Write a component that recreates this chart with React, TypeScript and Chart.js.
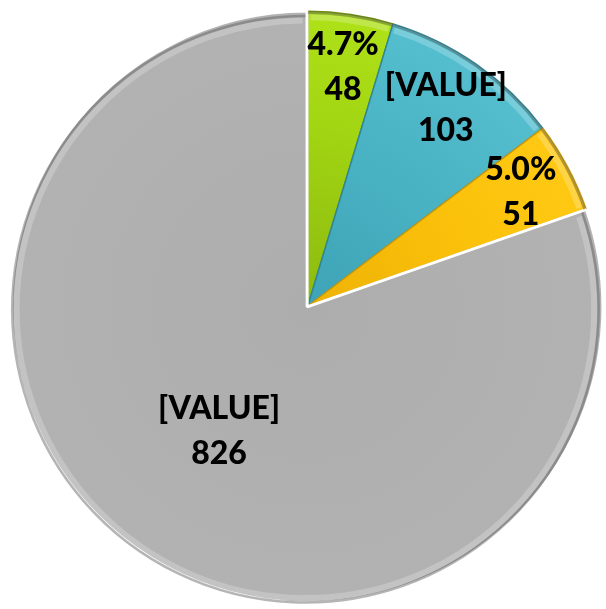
import React, { useEffect, useRef } from "react";
import { Chart, registerables } from "chart.js";

Chart.register(...registerables);

const categories = ["A", "B", "C", "D"];
const values = [48, 103, 51, 826];
const firstLine = ["percent", "[VALUE]", "percent", "[VALUE]"];
const baseColors = ["#a2d512", "#4ab4c5", "#fbc20b", "#b0b0b0"];
const innerColors = ["#8cba10", "#3ea3b6", "#eeb205", "#adadad"];
const outerColors = ["#b0e219", "#55bfd0", "#ffc913", "#b2b2b2"];
const edgeColors = ["#6f8f0c", "#2f8797", "#c8980a", "#ffffff"];

const rimPlugin = {
  id: "rim",
  afterDatasetsDraw(chart: any) {
    const ctx = chart.ctx;
    const meta = chart.getDatasetMeta(0);
    meta.data.forEach((arc: any) => {
      const p = arc.getProps(["x", "y", "startAngle", "endAngle", "outerRadius"], true);
      const mid = (p.startAngle + p.endAngle) / 2;
      const off = arc.options.offset || 0;
      const cx = p.x + Math.cos(mid) * off;
      const cy = p.y + Math.sin(mid) * off;
      ctx.save();
      ctx.lineCap = "butt";
      ctx.beginPath();
      ctx.arc(cx, cy, p.outerRadius - 6, p.startAngle + 0.01, p.endAngle - 0.01);
      ctx.strokeStyle = "rgba(255,255,255,0.22)";
      ctx.lineWidth = 6;
      ctx.stroke();
      ctx.beginPath();
      ctx.arc(cx, cy, p.outerRadius - 1.5, p.startAngle, p.endAngle);
      ctx.strokeStyle = "rgba(90,90,90,0.45)";
      ctx.lineWidth = 2.5;
      ctx.stroke();
      ctx.restore();
    });
  },
};

const labelPlugin = {
  id: "sliceLabels",
  afterDatasetsDraw(chart: any) {
    const ctx = chart.ctx;
    const meta = chart.getDatasetMeta(0);
    const total = values.reduce((a, b) => a + b, 0);
    ctx.save();
    ctx.font = "900 32px Lato";
    ctx.fillStyle = "#000000";
    ctx.textAlign = "center";
    ctx.textBaseline = "middle";
    meta.data.forEach((arc: any, i: number) => {
      const p = arc.getProps(["x", "y", "startAngle", "endAngle", "outerRadius"], true);
      const mid = (p.startAngle + p.endAngle) / 2;
      const share = values[i] / total;
      const f = share > 0.5 ? 0.52 : 0.82;
      const lx = p.x + Math.cos(mid) * p.outerRadius * f;
      const ly = p.y + Math.sin(mid) * p.outerRadius * f;
      const top = firstLine[i] === "percent" ? (share * 100).toFixed(1) + "%" : firstLine[i];
      ctx.fillText(top, lx, ly - 22);
      ctx.fillText(String(values[i]), lx, ly + 23);
    });
    ctx.restore();
  },
};

export default function App() {
  const ref = useRef<HTMLCanvasElement>(null);
  useEffect(() => {
    document.body.style.margin = "0";
    const chart = new Chart(ref.current!, {
      type: "pie",
      data: {
        labels: categories,
        datasets: [
          {
            data: values,
            backgroundColor: (c: any) => {
              const ch = c.chart;
              const area = ch.chartArea;
              const i = c.dataIndex;
              if (!area || i === undefined) return baseColors[i ?? 0];
              const cx = (area.left + area.right) / 2;
              const cy = (area.top + area.bottom) / 2;
              const r = Math.min(area.right - area.left, area.bottom - area.top) / 2;
              const g = ch.ctx.createRadialGradient(cx, cy, 0, cx, cy, r);
              g.addColorStop(0, innerColors[i]);
              g.addColorStop(0.6, baseColors[i]);
              g.addColorStop(1, outerColors[i]);
              return g;
            },
            borderColor: edgeColors,
            borderWidth: [1.5, 1.5, 1.5, 3],
            offset: [0, 0, 0, 4],
          },
        ],
      },
      options: {
        animation: false,
        responsive: true,
        maintainAspectRatio: false,
        events: [],
        layout: { padding: { left: 9.5, right: -2.5, top: 6.5, bottom: 3.5 } },
        plugins: { legend: { display: false }, tooltip: { enabled: false } },
      },
      plugins: [rimPlugin, labelPlugin],
    });
    return () => chart.destroy();
  }, []);
  return (
    <div style={{ width: 606, height: 609, position: "relative" }}>
      <canvas ref={ref} />
    </div>
  );
}
